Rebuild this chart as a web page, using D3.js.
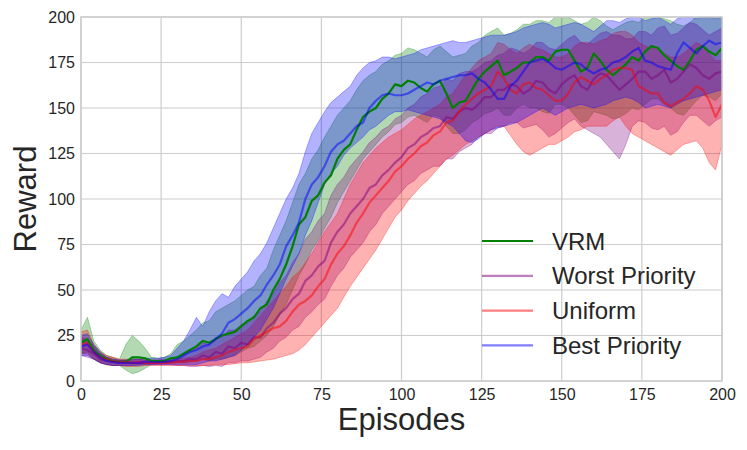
<!DOCTYPE html>
<html>
<head>
<meta charset="utf-8">
<script src="https://cdn.jsdelivr.net/npm/d3@7"></script>
<style>
  html, body { margin: 0; padding: 0; background: #fff; }
  svg { display: block; font-family: "Liberation Sans", Arial, sans-serif; }
</style>
</head>
<body>
<svg id="chart" width="747" height="450"></svg>
<script>
// episodes sampled every 2 steps (0..200)
const episodes = d3.range(0, 201, 2);

const vrmMean = [
  21,23,17,14,12,11,10.5,10.5,13,13,
  12.5,11,11,11,12.5,13,15,17,19,22,
  21,23,25,26,27,30,33,35,40,42,
  50,56,64,74,86,90,99,102,109,113,
  122,127,130,138,145,148,150,155,158,163,
  162,165,164,161,159,163,165,158,150,153,
  154,160,166,170,173,176,168,170,172,175,
  175,178,178,176,181,182,182,176,170,172,
  180,176,171,168,171,174,178,176,181,184,
  183,179,176,173,171,176,182,184,181,179,
  183];
const vrmLo = [
  15,16,12,10,9,8.5,8.5,6,4,5,
  7,9,9.5,9.5,10,10,10,10.5,11,12,
  11,12,12,13,14,16,18,19,22,25,
  30,36,42,50,58,64,72,77,84,90,
  98,104,110,116,122,126,130,134,137,141,
  142,145,146,144,142,146,145,140,136,136,
  138,142,144,147,148,150,146,146,150,152,
  150,150,148,147,152,152,150,146,142,143,
  148,147,146,144,145,147,150,149,152,155,
  155,152,150,147,146,150,154,157,156,154,
  158];
const vrmHi = [
  28,35,22,17,14,13,12,20,25,22,
  18,13,12.5,13,15,20,22,25,28,32,
  33,38,40,42,44,47,50,52,58,62,
  72,80,88,98,108,114,122,127,134,140,
  146,150,154,160,165,168,170,174,176,179,
  180,183,182,180,178,182,184,181,178,179,
  180,184,186,190,192,194,190,191,193,196,
  196,198,198,197,200,201,200,198,196,197,
  200,198,195,193,195,197,198,197,200,202,
  200,199,198,196,195,197,200,202,200,199,
  200];

const worstMean = [
  18,17,15,12,11,10.5,10,10,10,10,
  10,10,10,10.5,10.5,11,11,12,12,14,
  13,16,15,19,18,21,20,24,24,29,
  32,37,40,45,48,55,58,63,66,76,
  82,86,92,96,100,106,108,113,116,120,
  123,128,130,134,136,139,140,145,144,148,
  150,149,152,156,156,160,160,163,162,158,
  160,165,164,160,158,163,166,168,162,160,
  166,169,168,164,160,163,166,170,170,166,
  168,171,164,166,170,174,172,168,166,169,
  170];
const worstLo = [
  14,13,12,10,9,8.5,8.5,8.5,8.5,9,
  9,9,9,9,9,8.5,8.5,8,8,8.5,
  8,8.5,8,10,10,11,11,12,13,16,
  18,22,24,28,30,35,38,42,45,52,
  58,62,68,72,76,82,86,92,96,100,
  104,108,110,114,116,118,118,122,122,126,
  128,130,134,136,136,139,140,142,142,139,
  140,141,138,134,136,139,142,144,140,138,
  136,134,130,126,122,130,140,143,142,139,
  138,140,135,137,142,146,146,143,140,143,
  145];
const worstHi = [
  24,23,19,15,13,12,11.5,11.5,12,12,
  11.5,11.5,11.5,12,12,13,14,16,18,21,
  20,24,24,28,28,31,32,36,38,44,
  48,54,58,65,70,78,82,88,92,102,
  108,112,118,122,126,131,134,138,140,144,
  146,150,152,156,158,161,162,166,165,169,
  170,170,172,175,176,179,180,183,182,180,
  182,186,186,183,182,185,188,190,186,185,
  188,191,192,190,190,188,188,192,192,190,
  194,195,190,191,194,197,196,193,190,192,
  194];

const uniformMean = [
  20,21,16,13,12,11,10.5,10.5,10,10.5,
  10,10,10,10,10,10.5,10.5,11,11,12,
  12,13,14,16,17,18,19,23,25,27,
  29,30,33,38,42,44,47,52,56,64,
  70,74,80,87,92,98,102,106,110,115,
  118,122,125,129,131,135,137,142,143,148,
  152,155,158,160,162,170,166,160,158,163,
  164,161,160,157,154,154,158,164,167,165,
  163,166,168,171,172,172,171,162,160,158,
  158,153,151,153,155,158,162,160,154,145,
  152];
const uniformLo = [
  15,15,12,10,9,8.5,8.5,8,8,8,
  8.5,8.5,8.5,8.5,8.5,8.5,8.5,8.5,8.5,8.5,
  8.5,9,9,9,9.5,10,10,10.5,11,11.5,
  12,13,14,15,17,20,24,28,32,36,
  40,46,52,57,62,67,72,78,84,90,
  94,99,103,107,110,114,118,122,124,127,
  130,132,134,136,138,140,140,135,130,126,
  124,126,128,130,130,132,134,137,138,140,
  140,140,140,143,145,140,136,134,132,130,
  128,126,124,127,130,131,132,128,120,116,
  130];
const uniformHi = [
  27,28,20,16,14,13,12,12,11.5,12,
  11.5,11.5,11.5,11.5,11.5,12,12.5,13,14,16,
  17,18,20,22,24,26,28,32,36,40,
  44,48,52,57,60,65,70,76,82,87,
  92,100,108,114,120,124,128,131,134,136,
  138,141,144,146,148,150,152,156,158,163,
  168,172,176,178,180,186,185,182,180,183,
  185,183,182,180,178,178,180,184,186,186,
  185,187,188,191,192,192,190,186,184,183,
  182,180,178,178,180,183,186,184,180,176,
  176];

const bestMean = [
  19,20,16,13,11,10.5,10,10,10,10,
  10.5,10.5,10.5,10.5,11,12,14,16,17,19,
  20,23,26,32,34,37,40,44,47,53,
  58,64,74,80,87,100,108,112,118,126,
  130,132,136,140,142,150,154,157,158,157,
  157,158,160,162,164,163,165,166,167,168,
  168,169,166,164,160,155,155,162,165,170,
  175,176,177,175,172,171,173,175,174,171,
  169,171,172,175,176,178,181,183,176,175,
  173,172,171,180,186,183,180,184,187,185,
  186];
const bestLo = [
  14,14,12,10,9,8.5,8.5,8.5,8.5,8.5,
  9,9,9,9,9,9,9,9,9,10,
  11,11,12,13,14,17,20,24,28,34,
  40,48,56,63,70,80,88,98,108,114,
  118,124,128,131,134,138,140,143,146,148,
  148,149,148,147,146,145,144,142,140,136,
  132,131,133,136,138,139,140,141,142,144,
  146,148,150,148,146,148,150,151,152,151,
  150,151,152,154,155,156,155,153,150,151,
  152,151,150,152,154,155,156,157,158,159,
  160];
const bestHi = [
  25,26,20,16,13,12,11.5,11.5,12,12,
  12.5,12.5,12.5,13,14,18,22,28,35,30,
  38,44,48,46,52,56,60,66,70,76,
  84,92,100,106,114,126,136,142,148,153,
  156,159,162,168,172,175,176,178,178,177,
  178,179,180,182,183,184,185,186,187,186,
  186,187,188,189,190,190,190,191,192,194,
  195,196,197,196,194,195,196,197,196,194,
  192,195,198,198,197,199,200,200,198,199,
  200,198,196,199,200,200,199,200,200,200,
  200];

const xTicks = [0, 25, 50, 75, 100, 125, 150, 175, 200];
const yTicks = [0, 25, 50, 75, 100, 125, 150, 175, 200];

const series = [
  { name: "VRM", color: "#008000", lineAlpha: 1, mean: vrmMean, lo: vrmLo, hi: vrmHi },
  { name: "Worst Priority", color: "#800080", lineAlpha: 0.5, mean: worstMean, lo: worstLo, hi: worstHi },
  { name: "Uniform", color: "#ff0000", lineAlpha: 0.5, mean: uniformMean, lo: uniformLo, hi: uniformHi },
  { name: "Best Priority", color: "#0000ff", lineAlpha: 0.5, mean: bestMean, lo: bestLo, hi: bestHi },
];

for (const s of series) {
  for (const k of ["mean", "lo", "hi"]) {
    if (s[k].length !== episodes.length) console.warn(s.name, k, s[k].length);
  }
}

const svg = d3.select("#chart");
const plotLeft = 81, plotRight = 722, plotTop = 17, plotBottom = 381;
const textColor = "#262626";

const x = d3.scaleLinear().domain([0, 200]).range([plotLeft, plotRight]);
const y = d3.scaleLinear().domain([0, 200]).range([plotBottom, plotTop]);

svg.append("defs").append("clipPath").attr("id", "plotClip")
  .append("rect")
  .attr("x", plotLeft).attr("y", plotTop)
  .attr("width", plotRight - plotLeft).attr("height", plotBottom - plotTop);

// grid
const grid = svg.append("g").attr("class", "grid");
grid.selectAll("line.gx").data(xTicks).join("line")
  .attr("class", "gx")
  .attr("x1", d => x(d)).attr("x2", d => x(d))
  .attr("y1", plotTop).attr("y2", plotBottom)
  .attr("stroke", "#cccccc").attr("stroke-width", 1.2);
grid.selectAll("line.gy").data(yTicks).join("line")
  .attr("class", "gy")
  .attr("x1", plotLeft).attr("x2", plotRight)
  .attr("y1", d => y(d)).attr("y2", d => y(d))
  .attr("stroke", "#cccccc").attr("stroke-width", 1.2);

const plot = svg.append("g").attr("clip-path", "url(#plotClip)");

const rowsOf = s => episodes.map((e, i) => ({ e, m: s.mean[i], lo: s.lo[i], hi: s.hi[i] }));

const area = d3.area()
  .x(d => x(d.e))
  .y0(d => y(d.lo))
  .y1(d => y(d.hi));

const line = d3.line()
  .x(d => x(d.e))
  .y(d => y(d.m));

// bands first
for (const s of series) {
  plot.append("path")
    .datum(rowsOf(s))
    .attr("d", area)
    .attr("fill", s.color)
    .attr("fill-opacity", 0.3)
    .attr("stroke", s.color)
    .attr("stroke-opacity", 0.3)
    .attr("stroke-width", 1);
}

// then mean lines
for (const s of series) {
  plot.append("path")
    .datum(rowsOf(s))
    .attr("d", line)
    .attr("fill", "none")
    .attr("stroke", s.color)
    .attr("stroke-opacity", s.lineAlpha)
    .attr("stroke-width", 2.2)
    .attr("stroke-linejoin", "round");
}

// frame
svg.append("rect")
  .attr("x", plotLeft).attr("y", plotTop)
  .attr("width", plotRight - plotLeft).attr("height", plotBottom - plotTop)
  .attr("fill", "none")
  .attr("stroke", "#cccccc")
  .attr("stroke-width", 1.5);

// axes
const xAxis = svg.append("g")
  .attr("transform", `translate(0,${plotBottom})`)
  .call(d3.axisBottom(x).tickValues(xTicks).tickSize(0).tickPadding(8));
const yAxis = svg.append("g")
  .attr("transform", `translate(${plotLeft},0)`)
  .call(d3.axisLeft(y).tickValues(yTicks).tickSize(0).tickPadding(6));

for (const ax of [xAxis, yAxis]) {
  ax.select(".domain").remove();
  ax.selectAll("text")
    .attr("fill", textColor)
    .style("font-size", "16px")
    .style("font-family", "'Liberation Sans', Arial, sans-serif");
}

// axis titles
svg.append("text")
  .attr("x", (plotLeft + plotRight) / 2)
  .attr("y", 430)
  .attr("text-anchor", "middle")
  .attr("fill", textColor)
  .style("font-size", "31px")
  .text("Episodes");

svg.append("text")
  .attr("transform", `translate(36,${(plotTop + plotBottom) / 2}) rotate(-90)`)
  .attr("text-anchor", "middle")
  .attr("fill", textColor)
  .style("font-size", "31px")
  .text("Reward");

// legend
const legend = svg.append("g").attr("transform", "translate(482,241)");
series.forEach((s, i) => {
  const row = legend.append("g").attr("transform", `translate(0,${i * 34.8})`);
  row.append("line")
    .attr("x1", 0).attr("x2", 51)
    .attr("y1", 0).attr("y2", 0)
    .attr("stroke", s.color)
    .attr("stroke-opacity", s.lineAlpha)
    .attr("stroke-width", 2.2);
  row.append("text")
    .attr("x", 70)
    .attr("y", 0)
    .attr("dy", "0.36em")
    .attr("fill", textColor)
    .style("font-size", "24px")
    .text(s.name);
});
</script>
</body>
</html>
